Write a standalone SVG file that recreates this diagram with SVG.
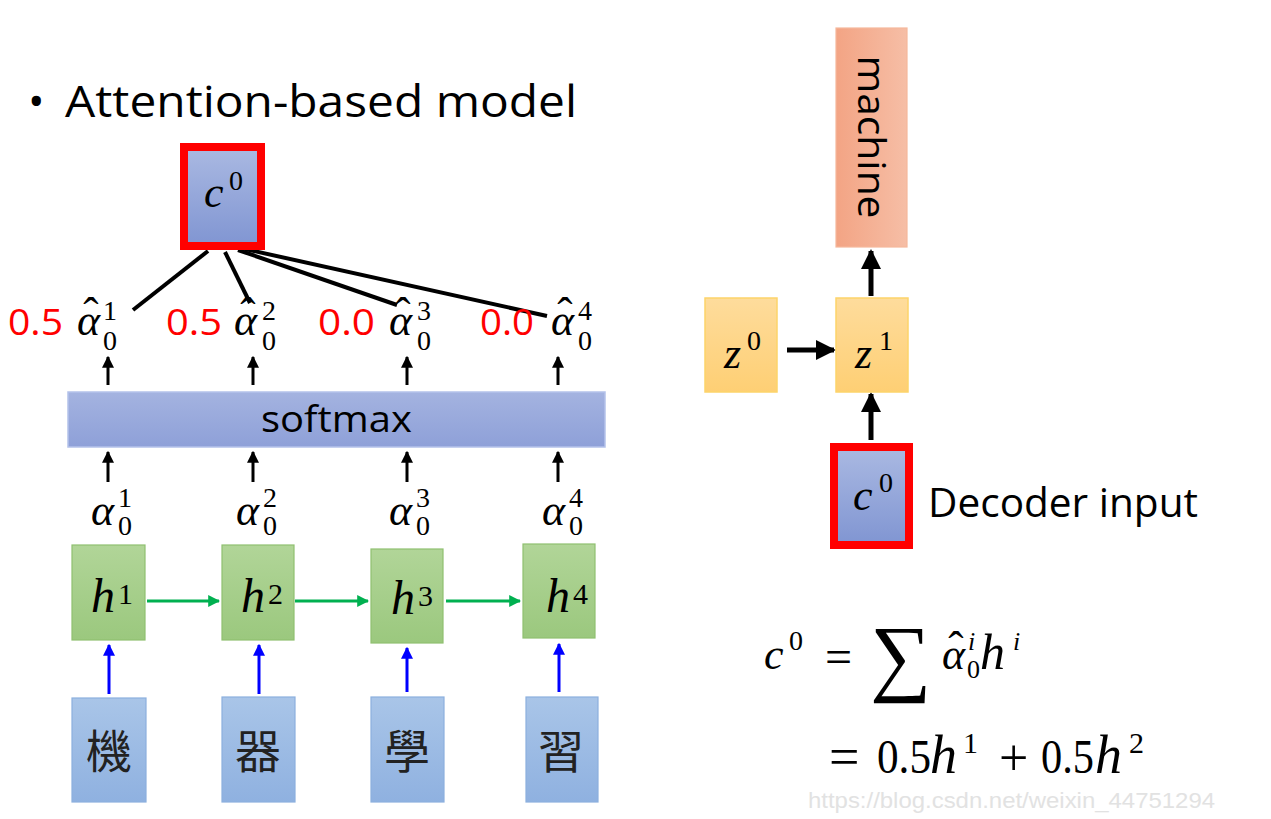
<svg xmlns="http://www.w3.org/2000/svg" width="1271" height="819" viewBox="0 0 1271 819">
<defs>
<linearGradient id="gBlue" x1="0" y1="0" x2="0" y2="1"><stop offset="0" stop-color="#aab9e2"/><stop offset="1" stop-color="#8095d2"/></linearGradient>
<linearGradient id="gSoft" x1="0" y1="0" x2="0" y2="1"><stop offset="0" stop-color="#a4b3e0"/><stop offset="1" stop-color="#8ea0d8"/></linearGradient>
<linearGradient id="gGreen" x1="0" y1="0" x2="0" y2="1"><stop offset="0" stop-color="#b1d598"/><stop offset="1" stop-color="#9bc87e"/></linearGradient>
<linearGradient id="gIn" x1="0" y1="0" x2="0" y2="1"><stop offset="0" stop-color="#a9c5e8"/><stop offset="1" stop-color="#8fb1e0"/></linearGradient>
<linearGradient id="gOrange" x1="0" y1="0" x2="1" y2="0"><stop offset="0" stop-color="#f3a484"/><stop offset="1" stop-color="#f6bea6"/></linearGradient>
<linearGradient id="gYellow" x1="0" y1="0" x2="0" y2="1"><stop offset="0" stop-color="#fedc9c"/><stop offset="1" stop-color="#fecf74"/></linearGradient>
<marker id="ahs" viewBox="0 0 10 10" refX="9" refY="5" markerWidth="4" markerHeight="4" orient="auto" markerUnits="strokeWidth"><path d="M0,0 L10,5 L0,10 z" fill="#000"/></marker>
<marker id="ahb" viewBox="0 0 10 10" refX="9" refY="5" markerWidth="4" markerHeight="4" orient="auto" markerUnits="strokeWidth"><path d="M0,0 L10,5 L0,10 z" fill="#0000ff"/></marker>
<marker id="ahg" viewBox="0 0 10 10" refX="9" refY="5" markerWidth="4" markerHeight="4" orient="auto" markerUnits="strokeWidth"><path d="M0,0 L10,5 L0,10 z" fill="#00b050"/></marker>
</defs>
<style>
.sans{font-family:"Open Sans","Liberation Sans",sans-serif;fill:#000}
.red{fill:#ff0000}
.m{font-family:"Liberation Serif","DejaVu Serif",serif;font-style:italic;fill:#000}
.n{font-family:"Liberation Serif","DejaVu Serif",serif;fill:#000}
.hat{font-family:"Liberation Serif","DejaVu Serif",serif;font-size:46px;fill:#000;text-anchor:middle}
.cjk{font-family:"Noto Sans CJK TC","Noto Sans CJK SC",sans-serif;font-size:46px;fill:#222;text-anchor:middle}
.blk{stroke:#000;fill:none}
</style>
<rect width="1271" height="819" fill="#fff"/>

<g id="title">
<text class="sans" x="28" y="117" font-size="44">•</text>
<text class="sans" x="65" y="117" font-size="44" textLength="512" lengthAdjust="spacingAndGlyphs">Attention-based model</text>
</g>

<g id="connectors">
<line class="blk" x1="133" y1="310" x2="208" y2="251" stroke-width="4"/>
<line class="blk" x1="250" y1="303" x2="225" y2="252" stroke-width="4"/>
<line class="blk" x1="397" y1="305" x2="238" y2="250" stroke-width="4"/>
<line class="blk" x1="547" y1="316" x2="245" y2="249" stroke-width="4"/>
<path d="M213,243 L234,236 L224,245 z" fill="#000"/>
<line class="blk" x1="108" y1="385" x2="108" y2="357" stroke-width="3" marker-end="url(#ahs)"/>
<line class="blk" x1="253" y1="385" x2="253" y2="357" stroke-width="3" marker-end="url(#ahs)"/>
<line class="blk" x1="407" y1="385" x2="407" y2="357" stroke-width="3" marker-end="url(#ahs)"/>
<line class="blk" x1="558" y1="385" x2="558" y2="357" stroke-width="3" marker-end="url(#ahs)"/>
<line class="blk" x1="108" y1="482" x2="108" y2="452" stroke-width="3" marker-end="url(#ahs)"/>
<line class="blk" x1="253" y1="482" x2="253" y2="452" stroke-width="3" marker-end="url(#ahs)"/>
<line class="blk" x1="407" y1="482" x2="407" y2="452" stroke-width="3" marker-end="url(#ahs)"/>
<line class="blk" x1="558" y1="482" x2="558" y2="452" stroke-width="3" marker-end="url(#ahs)"/>
<line x1="147" y1="601" x2="219" y2="601" stroke="#00b050" stroke-width="3" marker-end="url(#ahg)"/>
<line x1="295" y1="601" x2="368" y2="601" stroke="#00b050" stroke-width="3" marker-end="url(#ahg)"/>
<line x1="446" y1="601" x2="520" y2="601" stroke="#00b050" stroke-width="3" marker-end="url(#ahg)"/>
<line x1="109" y1="694" x2="109" y2="645" stroke="#0000ff" stroke-width="3" marker-end="url(#ahb)"/>
<line x1="259" y1="694" x2="259" y2="645" stroke="#0000ff" stroke-width="3" marker-end="url(#ahb)"/>
<line x1="407" y1="692" x2="407" y2="648" stroke="#0000ff" stroke-width="3" marker-end="url(#ahb)"/>
<line x1="559" y1="692" x2="559" y2="644" stroke="#0000ff" stroke-width="3" marker-end="url(#ahb)"/>
<line class="blk" x1="871" y1="296" x2="871" y2="251" stroke-width="5" marker-end="url(#ahs)"/>
<line class="blk" x1="787" y1="350" x2="834" y2="350" stroke-width="5" marker-end="url(#ahs)"/>
<line class="blk" x1="871" y1="440" x2="871" y2="394" stroke-width="5" marker-end="url(#ahs)"/>
</g>

<g id="c0-top">
<rect x="184" y="147" width="77" height="99" fill="url(#gBlue)" stroke="#ff0000" stroke-width="8"/>
<text class="m" x="204" y="207" font-size="44">c</text>
<text class="n" x="229" y="190" font-size="28">0</text>
</g>

<g id="alpha-hat-labels">
<text class="sans red" x="8" y="335" font-size="36" textLength="55" lengthAdjust="spacingAndGlyphs">0.5</text>
<text class="m" x="77" y="335" font-size="44">α</text><text class="hat" x="91" y="330">ˆ</text>
<text class="n" x="103" y="320" font-size="28">1</text>
<text class="n" x="103" y="350" font-size="28">0</text>

<text class="sans red" x="166" y="335" font-size="36" textLength="56" lengthAdjust="spacingAndGlyphs">0.5</text>
<text class="m" x="234" y="335" font-size="44">α</text><text class="hat" x="248" y="330">ˆ</text>
<text class="n" x="262" y="320" font-size="28">2</text>
<text class="n" x="262" y="350" font-size="28">0</text>

<text class="sans red" x="318" y="335" font-size="36" textLength="57" lengthAdjust="spacingAndGlyphs">0.0</text>
<text class="m" x="389" y="335" font-size="44">α</text><text class="hat" x="403" y="330">ˆ</text>
<text class="n" x="417" y="320" font-size="28">3</text>
<text class="n" x="417" y="350" font-size="28">0</text>

<text class="sans red" x="480" y="335" font-size="36" textLength="54" lengthAdjust="spacingAndGlyphs">0.0</text>
<text class="m" x="551" y="335" font-size="44">α</text><text class="hat" x="565" y="330">ˆ</text>
<text class="n" x="578" y="320" font-size="28">4</text>
<text class="n" x="578" y="350" font-size="28">0</text>
</g>

<g id="softmax">
<rect x="68" y="392" width="537" height="55" fill="url(#gSoft)" stroke="#b4c2ea" stroke-width="1.5"/>
<text class="sans" x="261" y="432" font-size="36" textLength="151" lengthAdjust="spacingAndGlyphs">softmax</text>
</g>

<g id="alpha-labels">
<text class="m" x="91" y="525" font-size="44">α</text>
<text class="n" x="118" y="507" font-size="28">1</text>
<text class="n" x="118" y="535" font-size="28">0</text>
<text class="m" x="236" y="525" font-size="44">α</text>
<text class="n" x="263" y="507" font-size="28">2</text>
<text class="n" x="263" y="535" font-size="28">0</text>
<text class="m" x="389" y="525" font-size="44">α</text>
<text class="n" x="416" y="507" font-size="28">3</text>
<text class="n" x="416" y="535" font-size="28">0</text>
<text class="m" x="542" y="525" font-size="44">α</text>
<text class="n" x="569" y="507" font-size="28">4</text>
<text class="n" x="569" y="535" font-size="28">0</text>
</g>

<g id="h1"><rect x="72" y="545" width="73" height="95" fill="url(#gGreen)" stroke="#8fc070" stroke-width="1.2"/><text class="m" x="91" y="612" font-size="48">h</text><text class="n" x="118" y="604" font-size="30">1</text></g>
<g id="h2"><rect x="222" y="545" width="72" height="95" fill="url(#gGreen)" stroke="#8fc070" stroke-width="1.2"/><text class="m" x="241" y="612" font-size="48">h</text><text class="n" x="268" y="604" font-size="30">2</text></g>
<g id="h3"><rect x="371" y="549" width="72" height="94" fill="url(#gGreen)" stroke="#8fc070" stroke-width="1.2"/><text class="m" x="391" y="614" font-size="48">h</text><text class="n" x="418" y="606" font-size="30">3</text></g>
<g id="h4"><rect x="523" y="544" width="72" height="94" fill="url(#gGreen)" stroke="#8fc070" stroke-width="1.2"/><text class="m" x="546" y="612" font-size="48">h</text><text class="n" x="573" y="604" font-size="30">4</text></g>

<g id="in1"><rect x="72" y="698" width="74" height="104" fill="url(#gIn)" stroke="#8cb0de" stroke-width="1.2"/><text class="cjk" x="109" y="768">機</text></g>
<g id="in2"><rect x="222" y="697" width="73" height="105" fill="url(#gIn)" stroke="#8cb0de" stroke-width="1.2"/><text class="cjk" x="258" y="768">器</text></g>
<g id="in3"><rect x="371" y="697" width="73" height="105" fill="url(#gIn)" stroke="#8cb0de" stroke-width="1.2"/><text class="cjk" x="407" y="768">學</text></g>
<g id="in4"><rect x="526" y="697" width="72" height="105" fill="url(#gIn)" stroke="#8cb0de" stroke-width="1.2"/><text class="cjk" x="561" y="768">習</text></g>

<g id="machine">
<rect x="836" y="28" width="71" height="219" fill="url(#gOrange)" stroke="#f5b89c" stroke-width="1.2"/>
<text class="sans" x="0" y="0" font-size="38" text-anchor="middle" transform="translate(858,137) rotate(90)" textLength="163" lengthAdjust="spacingAndGlyphs">machine</text>
</g>

<g id="z0"><rect x="705" y="298" width="72" height="94" fill="url(#gYellow)" stroke="#fdd46a" stroke-width="1.5"/><text class="m" x="724" y="368" font-size="44">z</text><text class="n" x="747" y="350" font-size="28">0</text></g>
<g id="z1"><rect x="836" y="298" width="72" height="94" fill="url(#gYellow)" stroke="#fdd46a" stroke-width="1.5"/><text class="m" x="855" y="368" font-size="44">z</text><text class="n" x="879" y="350" font-size="28">1</text></g>

<g id="c0-dec">
<rect x="834" y="447" width="75" height="98" fill="url(#gBlue)" stroke="#ff0000" stroke-width="8"/>
<text class="m" x="853" y="510" font-size="44">c</text>
<text class="n" x="879" y="492" font-size="28">0</text>
<text class="sans" x="928" y="517" font-size="40" textLength="270" lengthAdjust="spacingAndGlyphs">Decoder input</text>
</g>

<g id="formula">
<text class="m" x="764" y="669" font-size="44">c</text>
<text class="n" x="789" y="650" font-size="28">0</text>
<text class="n" x="825" y="673" font-size="48">=</text>
<text class="n" x="870" y="685" font-size="86">∑</text>
<text class="m" x="942" y="669" font-size="44">α</text><text class="hat" x="956" y="664">ˆ</text>
<text class="m" x="968" y="650" font-size="26">i</text>
<text class="n" x="967" y="678" font-size="26">0</text>
<text class="m" x="980" y="669" font-size="50">h</text>
<text class="m" x="1013" y="650" font-size="26">i</text>

<text class="n red" x="829" y="775" font-size="54">=</text>
<text class="n red" x="877" y="773" font-size="48" textLength="54" lengthAdjust="spacingAndGlyphs">0.5</text>
<text class="m red" x="930" y="773" font-size="54">h</text>
<text class="n red" x="963" y="753" font-size="30">1</text>
<text class="n red" x="999" y="775" font-size="52">+</text>
<text class="n red" x="1041" y="773" font-size="48" textLength="53" lengthAdjust="spacingAndGlyphs">0.5</text>
<text class="m red" x="1095" y="773" font-size="54">h</text>
<text class="n red" x="1129" y="753" font-size="30">2</text>
</g>

<g id="watermark">
<text x="808" y="808" font-family="Liberation Sans, Arial, sans-serif" font-size="22" fill="#e2e2e2" textLength="407" lengthAdjust="spacingAndGlyphs">https://blog.csdn.net/weixin_44751294</text>
</g>
</svg>
